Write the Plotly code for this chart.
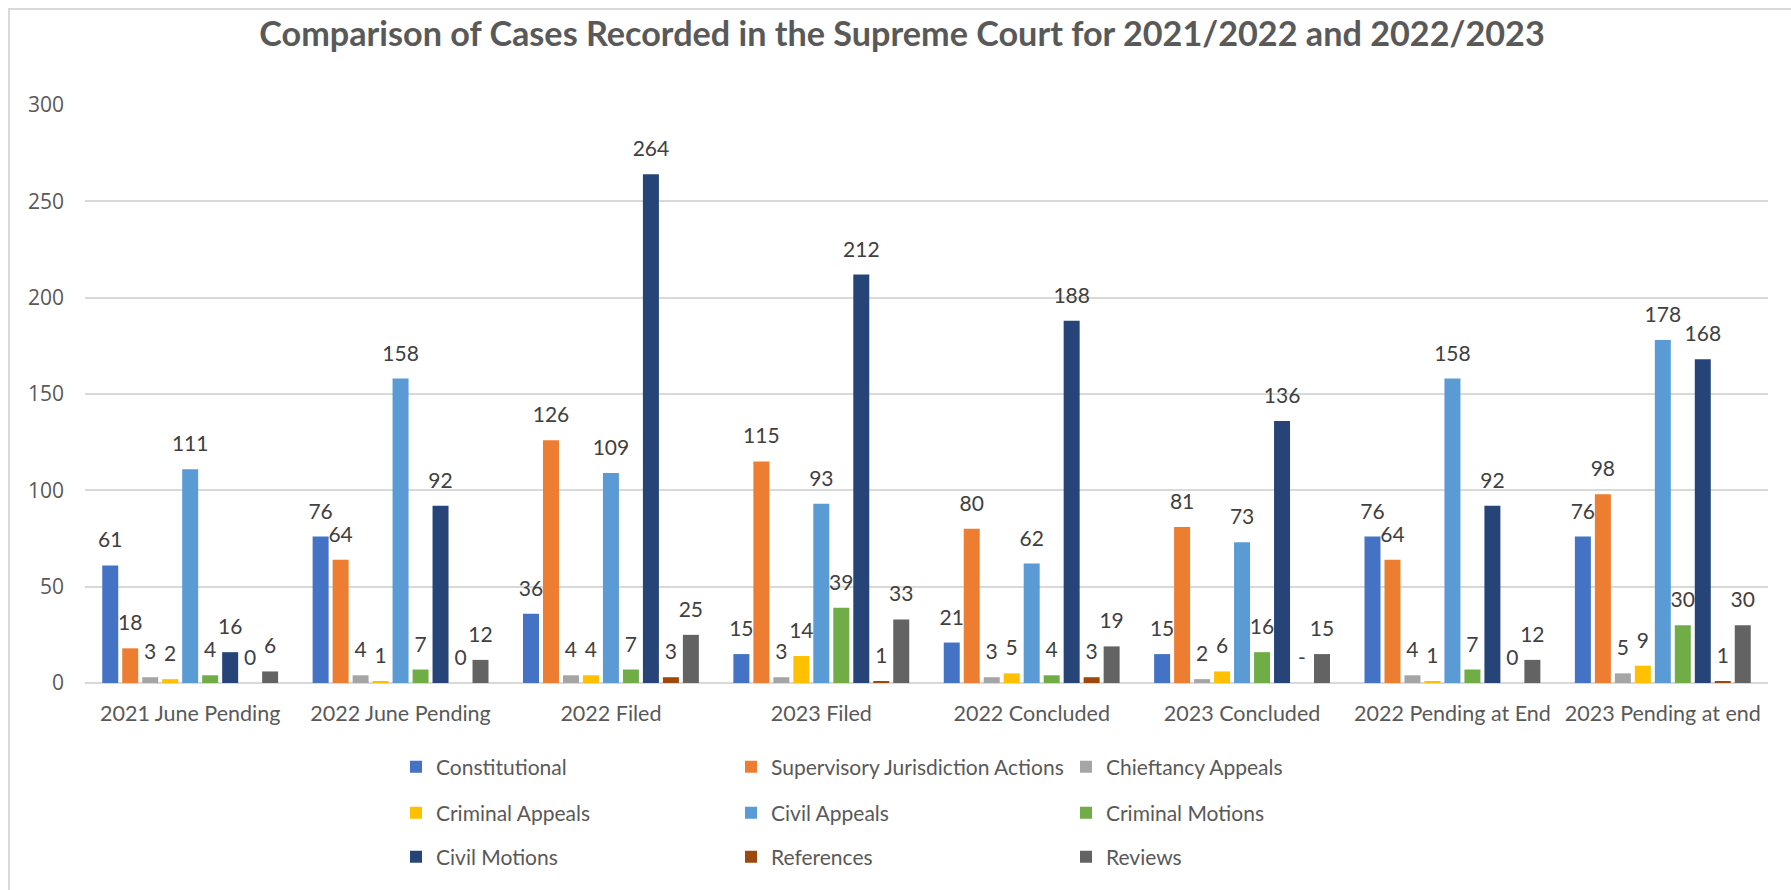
import plotly.graph_objects as go

categories = ["2021 June Pending", "2022 June Pending", "2022 Filed", "2023 Filed",
              "2022 Concluded", "2023 Concluded", "2022 Pending at End", "2023 Pending at end"]

constitutional = [61, 76, 36, 15, 21, 15, 76, 76]
supervisory = [18, 64, 126, 115, 80, 81, 64, 98]
chieftancy = [3, 4, 4, 3, 3, 2, 4, 5]
criminal_appeals = [2, 1, 4, 14, 5, 6, 1, 9]
civil_appeals = [111, 158, 109, 93, 62, 73, 158, 178]
criminal_motions = [4, 7, 7, 39, 4, 16, 7, 30]
civil_motions = [16, 92, 264, 212, 188, 136, 92, 168]
references = [0, 0, 3, 1, 3, None, 0, 1]   # None shown as "-"
reviews = [6, 12, 25, 33, 19, 15, 12, 30]

series = [
    ("Constitutional", constitutional, "#4472C4", "legend"),
    ("Supervisory Jurisdiction Actions", supervisory, "#ED7D31", "legend"),
    ("Chieftancy Appeals", chieftancy, "#A5A5A5", "legend"),
    ("Criminal Appeals", criminal_appeals, "#FFC000", "legend2"),
    ("Civil Appeals", civil_appeals, "#5B9BD5", "legend2"),
    ("Criminal Motions", criminal_motions, "#70AD47", "legend2"),
    ("Civil Motions", civil_motions, "#264478", "legend3"),
    ("References", references, "#9E480E", "legend3"),
    ("Reviews", reviews, "#636363", "legend3"),
]

W, H = 1791, 890
L, R, T, B = 85, 23, 105, 207

fig = go.Figure()
for name, vals, color, leg in series:
    yv = [0 if v is None else v for v in vals]
    txt = ["-" if v is None else str(v) for v in vals]
    fig.add_trace(go.Bar(
        name=name, x=categories, y=yv, text=txt,
        texttemplate="<span style='font-size:21px'>%{text}</span><br><span style='color:rgba(0,0,0,0)'>.</span>",
        textposition="outside", constraintext="none", cliponaxis=False,
        textfont=dict(family="Lato", size=10, color="#404040"),
        marker=dict(color=color, line=dict(width=0)),
        legend=leg, hoverinfo="skip",
    ))

def legend_cfg(row_y):
    return dict(orientation="h", xref="container", yref="container",
                x=396 / W, xanchor="left", y=1 - row_y / H, yanchor="middle",
                entrywidth=290, bgcolor="rgba(0,0,0,0)",
                font=dict(family="Lato", size=21, color="#595959"))

pw = W - L - R
ph = H - T - B
fig.update_layout(
    width=W, height=H,
    margin=dict(l=L, r=R, t=T, b=B, pad=0),
    paper_bgcolor="white", plot_bgcolor="white",
    barmode="group", bargap=0.145, bargroupgap=0.2,
    title=dict(text="<b>Comparison of Cases Recorded in the Supreme Court for 2021/2022 and 2022/2023</b>",
               x=902 / W, xanchor="center", y=1 - 34 / H, yanchor="middle",
               font=dict(family="Lato", size=34.2, color="#595959")),
    showlegend=True,
    legend=legend_cfg(767),
    legend2=legend_cfg(813),
    legend3=legend_cfg(857),
    xaxis=dict(showline=False, showgrid=False, ticks="",
               tickfont=dict(family="Lato", size=21.5, color="#595959"),
               ticklabelstandoff=15),
    yaxis=dict(range=[0, 300], dtick=50, showgrid=True, gridcolor="#D9D9D9", gridwidth=1.5,
               zeroline=True, zerolinecolor="#D9D9D9", zerolinewidth=2, showline=False, ticks="",
               tickfont=dict(family="Open Sans", size=21, color="#595959"),
               ticklabelstandoff=20),
    shapes=[dict(type="rect", xref="paper", yref="paper",
                 x0=(9 - L) / pw, x1=(W + 20 - L) / pw,
                 y0=(H - B - (H + 20)) / ph, y1=(H - B - 9) / ph,
                 line=dict(color="#D9D9D9", width=2), fillcolor="rgba(0,0,0,0)", layer="below")],
)

fig.write_html("out.html", config={"displayModeBar": False},
               post_script="document.body.style.margin='0';document.body.style.overflow='hidden';")
